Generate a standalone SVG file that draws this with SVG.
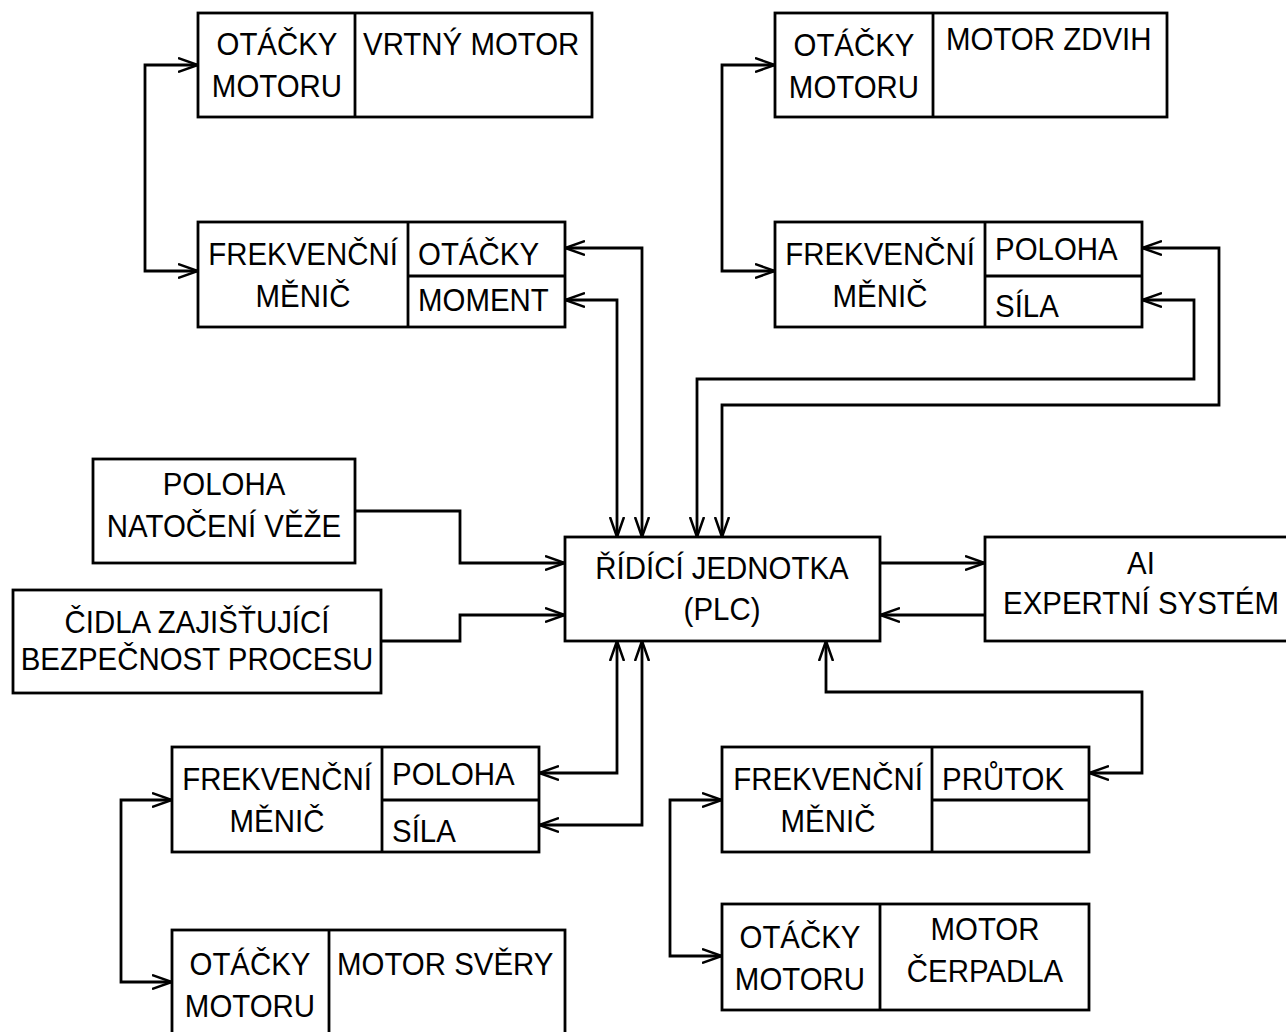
<svg xmlns="http://www.w3.org/2000/svg" width="1286" height="1032" viewBox="0 0 1286 1032">
<defs>
<marker id="ah" viewBox="0 0 20 16" refX="20" refY="8" markerWidth="20" markerHeight="16" markerUnits="userSpaceOnUse" orient="auto-start-reverse">
<path d="M0,1 L20,8 L0,15" fill="none" stroke="#000" stroke-width="2.5"/>
</marker>
<style>
.b{fill:#fff;stroke:#000;stroke-width:2.8}
.l{fill:none;stroke:#000;stroke-width:2.8}
text{font-family:"Liberation Sans",Arial,sans-serif;font-size:32px;fill:#000}
.c{text-anchor:middle}
.w{fill:none;stroke:#000;stroke-width:2.8;marker-end:url(#ah)}
.d{fill:none;stroke:#000;stroke-width:2.8;marker-start:url(#ah);marker-end:url(#ah)}
</style>
</defs>
<rect width="1286" height="1032" fill="#fff"/>
<g id="connectors">
<path class="d" d="M198,65 H145 V271 H198"/>
<path class="d" d="M775,65 H722 V271 H775"/>
<path class="d" d="M565,248 H642 V537"/>
<path class="d" d="M565,300 H617 V537"/>
<path class="d" d="M1142,248 H1219 V405 H722 V537"/>
<path class="d" d="M1142,300 H1194 V379 H697 V537"/>
<path class="w" d="M355,511 H460 V563 H565"/>
<path class="w" d="M381,641 H460 V615 H565"/>
<path class="w" d="M880,563 H985"/>
<path class="w" d="M985,615 H880"/>
<path class="d" d="M539,773 H617 V641"/>
<path class="d" d="M539,825 H642 V641"/>
<path class="d" d="M1089,773 H1142 V692 H826 V641"/>
<path class="d" d="M172,800 H121 V982 H172"/>
<path class="d" d="M722,800 H670 V956 H722"/>
</g>
<g id="motor-vrtny">
<rect class="b" x="198" y="13" width="394" height="104"/>
<line class="l" x1="355" y1="13" x2="355" y2="117"/>
<text class="c" transform="translate(277,55) scale(0.92,1)">OTÁČKY</text>
<text class="c" transform="translate(277,97) scale(0.92,1)">MOTORU</text>
<text transform="translate(363,55) scale(0.92,1)">VRTNÝ MOTOR</text>
</g>
<g id="motor-zdvih">
<rect class="b" x="775" y="13" width="392" height="104"/>
<line class="l" x1="933" y1="13" x2="933" y2="117"/>
<text class="c" transform="translate(854,56) scale(0.92,1)">OTÁČKY</text>
<text class="c" transform="translate(854,98) scale(0.92,1)">MOTORU</text>
<text transform="translate(946,50) scale(0.92,1)">MOTOR ZDVIH</text>
</g>
<g id="menic-vrtny">
<rect class="b" x="198" y="222" width="367" height="105"/>
<line class="l" x1="408" y1="222" x2="408" y2="327"/>
<line class="l" x1="408" y1="276" x2="565" y2="276"/>
<text class="c" transform="translate(303,265) scale(0.92,1)">FREKVENČNÍ</text>
<text class="c" transform="translate(303,307) scale(0.92,1)">MĚNIČ</text>
<text transform="translate(418,265) scale(0.92,1)">OTÁČKY</text>
<text transform="translate(418,311) scale(0.92,1)">MOMENT</text>
</g>
<g id="menic-zdvih">
<rect class="b" x="775" y="222" width="367" height="105"/>
<line class="l" x1="985" y1="222" x2="985" y2="327"/>
<line class="l" x1="985" y1="276" x2="1142" y2="276"/>
<text class="c" transform="translate(880,265) scale(0.92,1)">FREKVENČNÍ</text>
<text class="c" transform="translate(880,307) scale(0.92,1)">MĚNIČ</text>
<text transform="translate(995,260) scale(0.92,1)">POLOHA</text>
<text transform="translate(995,317) scale(0.92,1)">SÍLA</text>
</g>
<g id="poloha-veze">
<rect class="b" x="93" y="459" width="262" height="104"/>
<text class="c" transform="translate(224,495) scale(0.92,1)">POLOHA</text>
<text class="c" transform="translate(224,537) scale(0.92,1)">NATOČENÍ VĚŽE</text>
</g>
<g id="cidla">
<rect class="b" x="13" y="590" width="368" height="103"/>
<text class="c" transform="translate(197,633) scale(0.92,1)">ČIDLA ZAJIŠŤUJÍCÍ</text>
<text class="c" transform="translate(197,670) scale(0.92,1)">BEZPEČNOST PROCESU</text>
</g>
<g id="plc">
<rect class="b" x="565" y="537" width="315" height="104"/>
<text class="c" transform="translate(722,579) scale(0.92,1)">ŘÍDÍCÍ JEDNOTKA</text>
<text class="c" transform="translate(722,620) scale(0.92,1)">(PLC)</text>
</g>
<g id="ai">
<rect class="b" x="985" y="537" width="310" height="104"/>
<text class="c" transform="translate(1141,574) scale(0.92,1)">AI</text>
<text class="c" transform="translate(1141,614) scale(0.92,1)">EXPERTNÍ SYSTÉM</text>
</g>
<g id="menic-svery">
<rect class="b" x="172" y="747" width="367" height="105"/>
<line class="l" x1="382" y1="747" x2="382" y2="852"/>
<line class="l" x1="382" y1="800" x2="539" y2="800"/>
<text class="c" transform="translate(277,790) scale(0.92,1)">FREKVENČNÍ</text>
<text class="c" transform="translate(277,832) scale(0.92,1)">MĚNIČ</text>
<text transform="translate(392,785) scale(0.92,1)">POLOHA</text>
<text transform="translate(392,842) scale(0.92,1)">SÍLA</text>
</g>
<g id="motor-svery">
<rect class="b" x="172" y="930" width="393" height="110"/>
<line class="l" x1="329" y1="930" x2="329" y2="1040"/>
<text class="c" transform="translate(250,975) scale(0.92,1)">OTÁČKY</text>
<text class="c" transform="translate(250,1017) scale(0.92,1)">MOTORU</text>
<text transform="translate(337,975) scale(0.92,1)">MOTOR SVĚRY</text>
</g>
<g id="menic-cerpadla">
<rect class="b" x="722" y="747" width="367" height="105"/>
<line class="l" x1="932" y1="747" x2="932" y2="852"/>
<line class="l" x1="932" y1="800" x2="1089" y2="800"/>
<text class="c" transform="translate(828,790) scale(0.92,1)">FREKVENČNÍ</text>
<text class="c" transform="translate(828,832) scale(0.92,1)">MĚNIČ</text>
<text transform="translate(942,790) scale(0.92,1)">PRŮTOK</text>
</g>
<g id="motor-cerpadla">
<rect class="b" x="722" y="904" width="367" height="106"/>
<line class="l" x1="880" y1="904" x2="880" y2="1010"/>
<text class="c" transform="translate(800,948) scale(0.92,1)">OTÁČKY</text>
<text class="c" transform="translate(800,990) scale(0.92,1)">MOTORU</text>
<text class="c" transform="translate(985,940) scale(0.92,1)">MOTOR</text>
<text class="c" transform="translate(985,982) scale(0.92,1)">ČERPADLA</text>
</g>
</svg>
